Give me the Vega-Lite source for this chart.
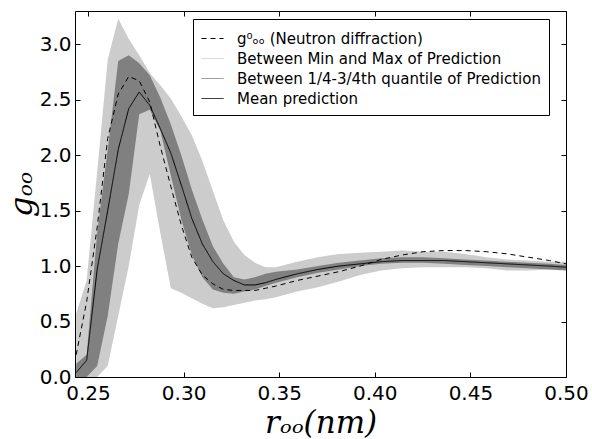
{
  "$schema": "https://vega.github.io/schema/vega-lite/v6.json",
  "autosize": "none",
  "width": 491,
  "height": 366,
  "padding": {"left": 75, "top": 11, "right": 26, "bottom": 62},
  "background": "white",
  "config": {
    "font": "DejaVu Sans",
    "view": {"stroke": "black", "strokeWidth": 1},
    "axis": {
      "grid": false,
      "domain": false,
      "labelFlush": false,
      "tickColor": "black",
      "tickSize": -5,
      "tickWidth": 1,
      "labelColor": "black",
      "labelFont": "DejaVu Sans",
      "labelFontSize": 20,
      "titleColor": "black",
      "titleFont": "DejaVu Serif",
      "titleFontStyle": "italic",
      "titleFontWeight": "normal"
    }
  },
  "data": {
    "values": [
      {"r": 0.2438, "lo": 0.0, "hi": 0.57, "q1": 0.0, "q3": 0.12, "mean": 0.04, "exp": 0.2},
      {"r": 0.2493, "lo": 0.0, "hi": 0.87, "q1": 0.0, "q3": 0.2, "mean": 0.15, "exp": 0.68},
      {"r": 0.2548, "lo": 0.0, "hi": 1.85, "q1": 0.1, "q3": 1.3, "mean": 0.97, "exp": 1.35},
      {"r": 0.2603, "lo": 0.1, "hi": 2.86, "q1": 0.55, "q3": 2.05, "mean": 1.5, "exp": 2.15},
      {"r": 0.2658, "lo": 0.55, "hi": 3.23, "q1": 1.2, "q3": 2.85, "mean": 2.05, "exp": 2.55},
      {"r": 0.2713, "lo": 1.0, "hi": 3.05, "q1": 1.65, "q3": 2.9, "mean": 2.42, "exp": 2.71},
      {"r": 0.2768, "lo": 1.55, "hi": 2.9, "q1": 2.37, "q3": 2.83, "mean": 2.57, "exp": 2.67},
      {"r": 0.2823, "lo": 1.83, "hi": 2.74, "q1": 2.41, "q3": 2.72, "mean": 2.45, "exp": 2.48},
      {"r": 0.2878, "lo": 1.3, "hi": 2.63, "q1": 2.22, "q3": 2.52, "mean": 2.24, "exp": 2.08},
      {"r": 0.2933, "lo": 0.8, "hi": 2.51, "q1": 1.82, "q3": 2.28, "mean": 2.02, "exp": 1.72},
      {"r": 0.2988, "lo": 0.76, "hi": 2.35, "q1": 1.42, "q3": 2.0, "mean": 1.73, "exp": 1.37},
      {"r": 0.3043, "lo": 0.71, "hi": 2.18, "q1": 1.1, "q3": 1.69, "mean": 1.43, "exp": 1.08},
      {"r": 0.3098, "lo": 0.66, "hi": 1.95, "q1": 0.9, "q3": 1.42, "mean": 1.2, "exp": 0.92},
      {"r": 0.3153, "lo": 0.62, "hi": 1.68, "q1": 0.79, "q3": 1.18, "mean": 1.04, "exp": 0.84},
      {"r": 0.3208, "lo": 0.63, "hi": 1.41, "q1": 0.76, "q3": 1.02, "mean": 0.93, "exp": 0.79},
      {"r": 0.3263, "lo": 0.65, "hi": 1.22, "q1": 0.75, "q3": 0.9, "mean": 0.87, "exp": 0.78},
      {"r": 0.3318, "lo": 0.67, "hi": 1.1, "q1": 0.77, "q3": 0.88, "mean": 0.83, "exp": 0.78},
      {"r": 0.3373, "lo": 0.69, "hi": 1.03, "q1": 0.79, "q3": 0.9, "mean": 0.83, "exp": 0.78},
      {"r": 0.3428, "lo": 0.7, "hi": 0.99, "q1": 0.82, "q3": 0.93, "mean": 0.85, "exp": 0.8},
      {"r": 0.3483, "lo": 0.72, "hi": 0.99, "q1": 0.85, "q3": 0.95, "mean": 0.88, "exp": 0.82},
      {"r": 0.3593, "lo": 0.77, "hi": 1.04, "q1": 0.9, "q3": 0.97, "mean": 0.93, "exp": 0.87},
      {"r": 0.3703, "lo": 0.81, "hi": 1.08, "q1": 0.94, "q3": 1.0, "mean": 0.97, "exp": 0.91},
      {"r": 0.3813, "lo": 0.86, "hi": 1.11, "q1": 0.97, "q3": 1.03, "mean": 1.0, "exp": 0.95},
      {"r": 0.3923, "lo": 0.92, "hi": 1.12, "q1": 1.0, "q3": 1.05, "mean": 1.02, "exp": 1.0},
      {"r": 0.4033, "lo": 0.96, "hi": 1.13, "q1": 1.02, "q3": 1.07, "mean": 1.04, "exp": 1.06},
      {"r": 0.4143, "lo": 0.98, "hi": 1.14, "q1": 1.03, "q3": 1.08, "mean": 1.05, "exp": 1.1},
      {"r": 0.4253, "lo": 0.99, "hi": 1.13, "q1": 1.03, "q3": 1.08, "mean": 1.05, "exp": 1.13},
      {"r": 0.4363, "lo": 0.99, "hi": 1.13, "q1": 1.02, "q3": 1.07, "mean": 1.05, "exp": 1.14},
      {"r": 0.4473, "lo": 0.99, "hi": 1.11, "q1": 1.01, "q3": 1.06, "mean": 1.04, "exp": 1.14},
      {"r": 0.4583, "lo": 0.98, "hi": 1.08, "q1": 1.0, "q3": 1.05, "mean": 1.03, "exp": 1.13},
      {"r": 0.4693, "lo": 0.96, "hi": 1.06, "q1": 0.99, "q3": 1.04, "mean": 1.02, "exp": 1.11},
      {"r": 0.4803, "lo": 0.96, "hi": 1.05, "q1": 0.98, "q3": 1.03, "mean": 1.01, "exp": 1.08},
      {"r": 0.4913, "lo": 0.97, "hi": 1.04, "q1": 0.97, "q3": 1.02, "mean": 1.0, "exp": 1.05},
      {"r": 0.5, "lo": 0.97, "hi": 1.04, "q1": 0.96, "q3": 1.01, "mean": 0.99, "exp": 1.02}
    ]
  },
  "layer": [
    {
      "mark": {"type": "area", "color": "#cccccc", "clip": true},
      "encoding": {
        "x": {
          "field": "r",
          "type": "quantitative",
          "scale": {"domain": [0.2432, 0.5], "nice": false, "zero": false},
          "axis": {
            "orient": "bottom",
            "values": [0.25, 0.3, 0.35, 0.4, 0.45, 0.5],
            "format": ".2f",
            "labelPadding": 11,
            "title": "rₒₒ(nm)",
            "titleFontSize": 31,
            "titlePadding": 5
          }
        },
        "y": {
          "field": "lo",
          "type": "quantitative",
          "scale": {"domain": [0, 3.3], "nice": false, "zero": false},
          "axis": {
            "orient": "left",
            "values": [0, 0.5, 1, 1.5, 2, 2.5, 3],
            "format": ".1f",
            "labelPadding": 9,
            "title": "gₒₒ",
            "titleFontSize": 32,
            "titlePadding": 1
          }
        },
        "y2": {"field": "hi"}
      }
    },
    {
      "mark": {"type": "area", "color": "#808080", "clip": true},
      "encoding": {
        "x": {
          "field": "r",
          "type": "quantitative",
          "axis": {
            "orient": "top",
            "values": [0.25, 0.3, 0.35, 0.4, 0.45, 0.5],
            "labels": false,
            "title": null
          }
        },
        "y": {
          "field": "q1",
          "type": "quantitative",
          "axis": {
            "orient": "right",
            "values": [0, 0.5, 1, 1.5, 2, 2.5, 3],
            "labels": false,
            "title": null
          }
        },
        "y2": {"field": "q3"}
      }
    },
    {
      "mark": {"type": "line", "strokeWidth": 1, "clip": true},
      "encoding": {
        "x": {"field": "r", "type": "quantitative", "axis": null},
        "y": {"field": "exp", "type": "quantitative", "axis": null},
        "color": {
          "datum": "g⁰ₒₒ (Neutron diffraction)",
          "type": "nominal",
          "scale": {
            "domain": ["g⁰ₒₒ (Neutron diffraction)", "Between Min and Max of Prediction", "Between 1/4-3/4th quantile of Prediction", "Mean prediction"],
            "range": ["#000000", "#cfcfcf", "#808080", "#000000"]
          },
          "legend": {
            "title": null,
            "orient": "none",
            "legendX": 118,
            "legendY": 8,
            "symbolType": "stroke",
            "symbolSize": 484,
            "symbolStrokeWidth": 1,
            "symbolOpacity": 1,
            "labelFontSize": 15,
            "labelFont": "DejaVu Sans",
            "labelColor": "black",
            "labelLimit": 400,
            "labelOffset": 13,
            "rowPadding": 0,
            "padding": 8,
            "strokeColor": "black",
            "fillColor": "white",
            "cornerRadius": 0,
            "encode": {"symbols": {"update": {"strokeWidth": {"value": 1}, "opacity": {"value": 1}}}}
          }
        },
        "strokeDash": {
          "datum": "g⁰ₒₒ (Neutron diffraction)",
          "type": "nominal",
          "scale": {
            "domain": ["g⁰ₒₒ (Neutron diffraction)", "Between Min and Max of Prediction", "Between 1/4-3/4th quantile of Prediction", "Mean prediction"],
            "range": [[5, 4], [1, 0], [1, 0], [1, 0]]
          },
          "legend": {
            "title": null,
            "orient": "none",
            "legendX": 118,
            "legendY": 8,
            "symbolType": "stroke",
            "symbolSize": 484,
            "symbolStrokeWidth": 1,
            "symbolOpacity": 1,
            "labelFontSize": 15,
            "labelFont": "DejaVu Sans",
            "labelColor": "black",
            "labelLimit": 400,
            "labelOffset": 13,
            "rowPadding": 0,
            "padding": 8,
            "strokeColor": "black",
            "fillColor": "white",
            "cornerRadius": 0,
            "encode": {"symbols": {"update": {"strokeWidth": {"value": 1}, "opacity": {"value": 1}}}}
          }
        }
      }
    },
    {
      "mark": {"type": "line", "strokeWidth": 1, "clip": true},
      "encoding": {
        "x": {"field": "r", "type": "quantitative", "axis": null},
        "y": {"field": "mean", "type": "quantitative", "axis": null},
        "color": {"datum": "Mean prediction", "type": "nominal"},
        "strokeDash": {"datum": "Mean prediction", "type": "nominal"}
      }
    }
  ]
}
